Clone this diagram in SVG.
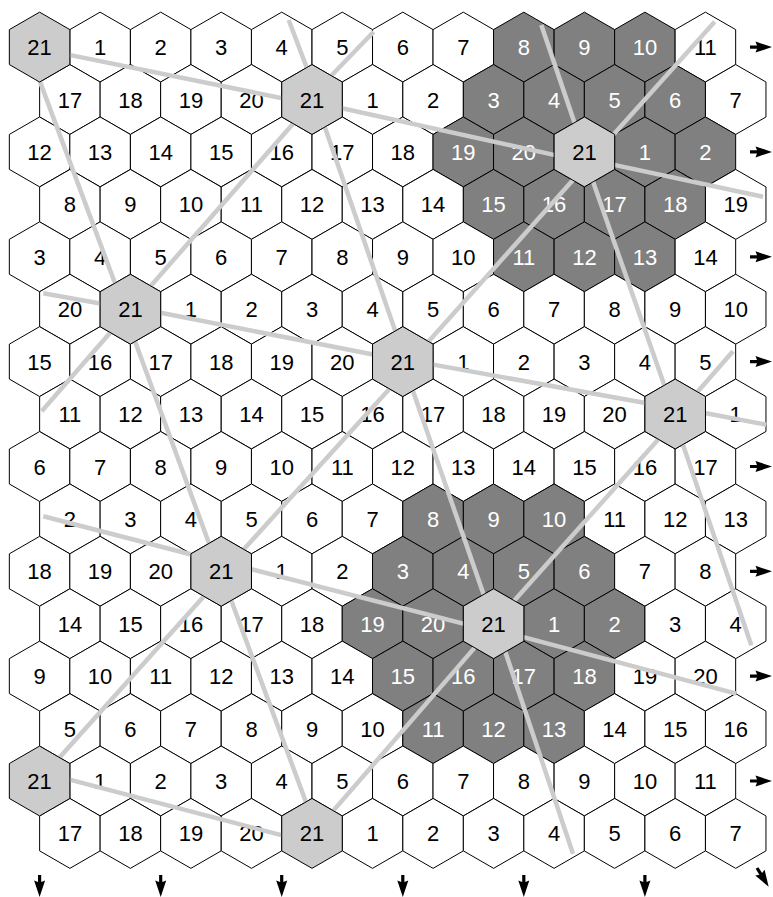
<svg xmlns="http://www.w3.org/2000/svg" xmlns:xlink="http://www.w3.org/1999/xlink" width="773" height="897" viewBox="0 0 773 897">
<style>
use.hx{stroke:#000;stroke-width:1}
.w use{fill:#fff}
.d use{fill:#808080}
.l use{fill:#ccc}
text{font-family:"Liberation Sans",Arial,sans-serif;font-size:22px;text-anchor:middle;fill:#000}
.d text{fill:#fff}
#connectors line{stroke:#ccc;stroke-width:4.5;stroke-linecap:butt}
.arr{fill:#000}
</style>
<defs>
<polygon id="h" points="0,-34.95 30.265,-17.475 30.265,17.475 0,34.95 -30.265,17.475 -30.265,-17.475"/>
<path id="ar" d="M0,-1.6H7L5.5,-5.5L22,0L5.5,5.5L7,1.6H0Z"/>
</defs>
<rect width="773" height="897" fill="#fff"/>
<g id="cells">
<g id="r0c1" class="w" transform="translate(100.1,47.1)"><use class="hx" href="#h"/><text y="8">1</text></g>
<g id="r0c2" class="w" transform="translate(160.7,47.1)"><use class="hx" href="#h"/><text y="8">2</text></g>
<g id="r0c3" class="w" transform="translate(221.2,47.1)"><use class="hx" href="#h"/><text y="8">3</text></g>
<g id="r0c4" class="w" transform="translate(281.7,47.1)"><use class="hx" href="#h"/><text y="8">4</text></g>
<g id="r0c5" class="w" transform="translate(342.3,47.1)"><use class="hx" href="#h"/><text y="8">5</text></g>
<g id="r0c6" class="w" transform="translate(402.8,47.1)"><use class="hx" href="#h"/><text y="8">6</text></g>
<g id="r0c7" class="w" transform="translate(463.3,47.1)"><use class="hx" href="#h"/><text y="8">7</text></g>
<g id="r0c8" class="d" transform="translate(523.8,47.1)"><use class="hx" href="#h"/><text y="8">8</text></g>
<g id="r0c9" class="d" transform="translate(584.4,47.1)"><use class="hx" href="#h"/><text y="8">9</text></g>
<g id="r0c10" class="d" transform="translate(644.9,47.1)"><use class="hx" href="#h"/><text y="8">10</text></g>
<g id="r0c11" class="w" transform="translate(705.4,47.1)"><use class="hx" href="#h"/><text y="8">11</text></g>

<g id="r1c0" class="w" transform="translate(69.9,99.5)"><use class="hx" href="#h"/><text y="8">17</text></g>
<g id="r1c1" class="w" transform="translate(130.4,99.5)"><use class="hx" href="#h"/><text y="8">18</text></g>
<g id="r1c2" class="w" transform="translate(190.9,99.5)"><use class="hx" href="#h"/><text y="8">19</text></g>
<g id="r1c3" class="w" transform="translate(251.5,99.5)"><use class="hx" href="#h"/><text y="8">20</text></g>
<g id="r1c5" class="w" transform="translate(372.5,99.5)"><use class="hx" href="#h"/><text y="8">1</text></g>
<g id="r1c6" class="w" transform="translate(433.1,99.5)"><use class="hx" href="#h"/><text y="8">2</text></g>
<g id="r1c7" class="d" transform="translate(493.6,99.5)"><use class="hx" href="#h"/><text y="8">3</text></g>
<g id="r1c8" class="d" transform="translate(554.1,99.5)"><use class="hx" href="#h"/><text y="8">4</text></g>
<g id="r1c9" class="d" transform="translate(614.6,99.5)"><use class="hx" href="#h"/><text y="8">5</text></g>
<g id="r1c10" class="d" transform="translate(675.2,99.5)"><use class="hx" href="#h"/><text y="8">6</text></g>
<g id="r1c11" class="w" transform="translate(735.7,99.5)"><use class="hx" href="#h"/><text y="8">7</text></g>

<g id="r2c0" class="w" transform="translate(39.6,151.9)"><use class="hx" href="#h"/><text y="8">12</text></g>
<g id="r2c1" class="w" transform="translate(100.1,151.9)"><use class="hx" href="#h"/><text y="8">13</text></g>
<g id="r2c2" class="w" transform="translate(160.7,151.9)"><use class="hx" href="#h"/><text y="8">14</text></g>
<g id="r2c3" class="w" transform="translate(221.2,151.9)"><use class="hx" href="#h"/><text y="8">15</text></g>
<g id="r2c4" class="w" transform="translate(281.7,151.9)"><use class="hx" href="#h"/><text y="8">16</text></g>
<g id="r2c5" class="w" transform="translate(342.3,151.9)"><use class="hx" href="#h"/><text y="8">17</text></g>
<g id="r2c6" class="w" transform="translate(402.8,151.9)"><use class="hx" href="#h"/><text y="8">18</text></g>
<g id="r2c7" class="d" transform="translate(463.3,151.9)"><use class="hx" href="#h"/><text y="8">19</text></g>
<g id="r2c8" class="d" transform="translate(523.8,151.9)"><use class="hx" href="#h"/><text y="8">20</text></g>
<g id="r2c10" class="d" transform="translate(644.9,151.9)"><use class="hx" href="#h"/><text y="8">1</text></g>
<g id="r2c11" class="d" transform="translate(705.4,151.9)"><use class="hx" href="#h"/><text y="8">2</text></g>

<g id="r3c0" class="w" transform="translate(69.9,204.4)"><use class="hx" href="#h"/><text y="8">8</text></g>
<g id="r3c1" class="w" transform="translate(130.4,204.4)"><use class="hx" href="#h"/><text y="8">9</text></g>
<g id="r3c2" class="w" transform="translate(190.9,204.4)"><use class="hx" href="#h"/><text y="8">10</text></g>
<g id="r3c3" class="w" transform="translate(251.5,204.4)"><use class="hx" href="#h"/><text y="8">11</text></g>
<g id="r3c4" class="w" transform="translate(312.0,204.4)"><use class="hx" href="#h"/><text y="8">12</text></g>
<g id="r3c5" class="w" transform="translate(372.5,204.4)"><use class="hx" href="#h"/><text y="8">13</text></g>
<g id="r3c6" class="w" transform="translate(433.1,204.4)"><use class="hx" href="#h"/><text y="8">14</text></g>
<g id="r3c7" class="d" transform="translate(493.6,204.4)"><use class="hx" href="#h"/><text y="8">15</text></g>
<g id="r3c8" class="d" transform="translate(554.1,204.4)"><use class="hx" href="#h"/><text y="8">16</text></g>
<g id="r3c9" class="d" transform="translate(614.6,204.4)"><use class="hx" href="#h"/><text y="8">17</text></g>
<g id="r3c10" class="d" transform="translate(675.2,204.4)"><use class="hx" href="#h"/><text y="8">18</text></g>
<g id="r3c11" class="w" transform="translate(735.7,204.4)"><use class="hx" href="#h"/><text y="8">19</text></g>

<g id="r4c0" class="w" transform="translate(39.6,256.8)"><use class="hx" href="#h"/><text y="8">3</text></g>
<g id="r4c1" class="w" transform="translate(100.1,256.8)"><use class="hx" href="#h"/><text y="8">4</text></g>
<g id="r4c2" class="w" transform="translate(160.7,256.8)"><use class="hx" href="#h"/><text y="8">5</text></g>
<g id="r4c3" class="w" transform="translate(221.2,256.8)"><use class="hx" href="#h"/><text y="8">6</text></g>
<g id="r4c4" class="w" transform="translate(281.7,256.8)"><use class="hx" href="#h"/><text y="8">7</text></g>
<g id="r4c5" class="w" transform="translate(342.3,256.8)"><use class="hx" href="#h"/><text y="8">8</text></g>
<g id="r4c6" class="w" transform="translate(402.8,256.8)"><use class="hx" href="#h"/><text y="8">9</text></g>
<g id="r4c7" class="w" transform="translate(463.3,256.8)"><use class="hx" href="#h"/><text y="8">10</text></g>
<g id="r4c8" class="d" transform="translate(523.8,256.8)"><use class="hx" href="#h"/><text y="8">11</text></g>
<g id="r4c9" class="d" transform="translate(584.4,256.8)"><use class="hx" href="#h"/><text y="8">12</text></g>
<g id="r4c10" class="d" transform="translate(644.9,256.8)"><use class="hx" href="#h"/><text y="8">13</text></g>
<g id="r4c11" class="w" transform="translate(705.4,256.8)"><use class="hx" href="#h"/><text y="8">14</text></g>

<g id="r5c0" class="w" transform="translate(69.9,309.2)"><use class="hx" href="#h"/><text y="8">20</text></g>
<g id="r5c2" class="w" transform="translate(190.9,309.2)"><use class="hx" href="#h"/><text y="8">1</text></g>
<g id="r5c3" class="w" transform="translate(251.5,309.2)"><use class="hx" href="#h"/><text y="8">2</text></g>
<g id="r5c4" class="w" transform="translate(312.0,309.2)"><use class="hx" href="#h"/><text y="8">3</text></g>
<g id="r5c5" class="w" transform="translate(372.5,309.2)"><use class="hx" href="#h"/><text y="8">4</text></g>
<g id="r5c6" class="w" transform="translate(433.1,309.2)"><use class="hx" href="#h"/><text y="8">5</text></g>
<g id="r5c7" class="w" transform="translate(493.6,309.2)"><use class="hx" href="#h"/><text y="8">6</text></g>
<g id="r5c8" class="w" transform="translate(554.1,309.2)"><use class="hx" href="#h"/><text y="8">7</text></g>
<g id="r5c9" class="w" transform="translate(614.6,309.2)"><use class="hx" href="#h"/><text y="8">8</text></g>
<g id="r5c10" class="w" transform="translate(675.2,309.2)"><use class="hx" href="#h"/><text y="8">9</text></g>
<g id="r5c11" class="w" transform="translate(735.7,309.2)"><use class="hx" href="#h"/><text y="8">10</text></g>

<g id="r6c0" class="w" transform="translate(39.6,361.6)"><use class="hx" href="#h"/><text y="8">15</text></g>
<g id="r6c1" class="w" transform="translate(100.1,361.6)"><use class="hx" href="#h"/><text y="8">16</text></g>
<g id="r6c2" class="w" transform="translate(160.7,361.6)"><use class="hx" href="#h"/><text y="8">17</text></g>
<g id="r6c3" class="w" transform="translate(221.2,361.6)"><use class="hx" href="#h"/><text y="8">18</text></g>
<g id="r6c4" class="w" transform="translate(281.7,361.6)"><use class="hx" href="#h"/><text y="8">19</text></g>
<g id="r6c5" class="w" transform="translate(342.3,361.6)"><use class="hx" href="#h"/><text y="8">20</text></g>
<g id="r6c7" class="w" transform="translate(463.3,361.6)"><use class="hx" href="#h"/><text y="8">1</text></g>
<g id="r6c8" class="w" transform="translate(523.8,361.6)"><use class="hx" href="#h"/><text y="8">2</text></g>
<g id="r6c9" class="w" transform="translate(584.4,361.6)"><use class="hx" href="#h"/><text y="8">3</text></g>
<g id="r6c10" class="w" transform="translate(644.9,361.6)"><use class="hx" href="#h"/><text y="8">4</text></g>
<g id="r6c11" class="w" transform="translate(705.4,361.6)"><use class="hx" href="#h"/><text y="8">5</text></g>

<g id="r7c0" class="w" transform="translate(69.9,414.0)"><use class="hx" href="#h"/><text y="8">11</text></g>
<g id="r7c1" class="w" transform="translate(130.4,414.0)"><use class="hx" href="#h"/><text y="8">12</text></g>
<g id="r7c2" class="w" transform="translate(190.9,414.0)"><use class="hx" href="#h"/><text y="8">13</text></g>
<g id="r7c3" class="w" transform="translate(251.5,414.0)"><use class="hx" href="#h"/><text y="8">14</text></g>
<g id="r7c4" class="w" transform="translate(312.0,414.0)"><use class="hx" href="#h"/><text y="8">15</text></g>
<g id="r7c5" class="w" transform="translate(372.5,414.0)"><use class="hx" href="#h"/><text y="8">16</text></g>
<g id="r7c6" class="w" transform="translate(433.1,414.0)"><use class="hx" href="#h"/><text y="8">17</text></g>
<g id="r7c7" class="w" transform="translate(493.6,414.0)"><use class="hx" href="#h"/><text y="8">18</text></g>
<g id="r7c8" class="w" transform="translate(554.1,414.0)"><use class="hx" href="#h"/><text y="8">19</text></g>
<g id="r7c9" class="w" transform="translate(614.6,414.0)"><use class="hx" href="#h"/><text y="8">20</text></g>
<g id="r7c11" class="w" transform="translate(735.7,414.0)"><use class="hx" href="#h"/><text y="8">1</text></g>

<g id="r8c0" class="w" transform="translate(39.6,466.5)"><use class="hx" href="#h"/><text y="8">6</text></g>
<g id="r8c1" class="w" transform="translate(100.1,466.5)"><use class="hx" href="#h"/><text y="8">7</text></g>
<g id="r8c2" class="w" transform="translate(160.7,466.5)"><use class="hx" href="#h"/><text y="8">8</text></g>
<g id="r8c3" class="w" transform="translate(221.2,466.5)"><use class="hx" href="#h"/><text y="8">9</text></g>
<g id="r8c4" class="w" transform="translate(281.7,466.5)"><use class="hx" href="#h"/><text y="8">10</text></g>
<g id="r8c5" class="w" transform="translate(342.3,466.5)"><use class="hx" href="#h"/><text y="8">11</text></g>
<g id="r8c6" class="w" transform="translate(402.8,466.5)"><use class="hx" href="#h"/><text y="8">12</text></g>
<g id="r8c7" class="w" transform="translate(463.3,466.5)"><use class="hx" href="#h"/><text y="8">13</text></g>
<g id="r8c8" class="w" transform="translate(523.8,466.5)"><use class="hx" href="#h"/><text y="8">14</text></g>
<g id="r8c9" class="w" transform="translate(584.4,466.5)"><use class="hx" href="#h"/><text y="8">15</text></g>
<g id="r8c10" class="w" transform="translate(644.9,466.5)"><use class="hx" href="#h"/><text y="8">16</text></g>
<g id="r8c11" class="w" transform="translate(705.4,466.5)"><use class="hx" href="#h"/><text y="8">17</text></g>

<g id="r9c0" class="w" transform="translate(69.9,518.9)"><use class="hx" href="#h"/><text y="8">2</text></g>
<g id="r9c1" class="w" transform="translate(130.4,518.9)"><use class="hx" href="#h"/><text y="8">3</text></g>
<g id="r9c2" class="w" transform="translate(190.9,518.9)"><use class="hx" href="#h"/><text y="8">4</text></g>
<g id="r9c3" class="w" transform="translate(251.5,518.9)"><use class="hx" href="#h"/><text y="8">5</text></g>
<g id="r9c4" class="w" transform="translate(312.0,518.9)"><use class="hx" href="#h"/><text y="8">6</text></g>
<g id="r9c5" class="w" transform="translate(372.5,518.9)"><use class="hx" href="#h"/><text y="8">7</text></g>
<g id="r9c6" class="d" transform="translate(433.1,518.9)"><use class="hx" href="#h"/><text y="8">8</text></g>
<g id="r9c7" class="d" transform="translate(493.6,518.9)"><use class="hx" href="#h"/><text y="8">9</text></g>
<g id="r9c8" class="d" transform="translate(554.1,518.9)"><use class="hx" href="#h"/><text y="8">10</text></g>
<g id="r9c9" class="w" transform="translate(614.6,518.9)"><use class="hx" href="#h"/><text y="8">11</text></g>
<g id="r9c10" class="w" transform="translate(675.2,518.9)"><use class="hx" href="#h"/><text y="8">12</text></g>
<g id="r9c11" class="w" transform="translate(735.7,518.9)"><use class="hx" href="#h"/><text y="8">13</text></g>

<g id="r10c0" class="w" transform="translate(39.6,571.3)"><use class="hx" href="#h"/><text y="8">18</text></g>
<g id="r10c1" class="w" transform="translate(100.1,571.3)"><use class="hx" href="#h"/><text y="8">19</text></g>
<g id="r10c2" class="w" transform="translate(160.7,571.3)"><use class="hx" href="#h"/><text y="8">20</text></g>
<g id="r10c4" class="w" transform="translate(281.7,571.3)"><use class="hx" href="#h"/><text y="8">1</text></g>
<g id="r10c5" class="w" transform="translate(342.3,571.3)"><use class="hx" href="#h"/><text y="8">2</text></g>
<g id="r10c6" class="d" transform="translate(402.8,571.3)"><use class="hx" href="#h"/><text y="8">3</text></g>
<g id="r10c7" class="d" transform="translate(463.3,571.3)"><use class="hx" href="#h"/><text y="8">4</text></g>
<g id="r10c8" class="d" transform="translate(523.8,571.3)"><use class="hx" href="#h"/><text y="8">5</text></g>
<g id="r10c9" class="d" transform="translate(584.4,571.3)"><use class="hx" href="#h"/><text y="8">6</text></g>
<g id="r10c10" class="w" transform="translate(644.9,571.3)"><use class="hx" href="#h"/><text y="8">7</text></g>
<g id="r10c11" class="w" transform="translate(705.4,571.3)"><use class="hx" href="#h"/><text y="8">8</text></g>

<g id="r11c0" class="w" transform="translate(69.9,623.7)"><use class="hx" href="#h"/><text y="8">14</text></g>
<g id="r11c1" class="w" transform="translate(130.4,623.7)"><use class="hx" href="#h"/><text y="8">15</text></g>
<g id="r11c2" class="w" transform="translate(190.9,623.7)"><use class="hx" href="#h"/><text y="8">16</text></g>
<g id="r11c3" class="w" transform="translate(251.5,623.7)"><use class="hx" href="#h"/><text y="8">17</text></g>
<g id="r11c4" class="w" transform="translate(312.0,623.7)"><use class="hx" href="#h"/><text y="8">18</text></g>
<g id="r11c5" class="d" transform="translate(372.5,623.7)"><use class="hx" href="#h"/><text y="8">19</text></g>
<g id="r11c6" class="d" transform="translate(433.1,623.7)"><use class="hx" href="#h"/><text y="8">20</text></g>
<g id="r11c8" class="d" transform="translate(554.1,623.7)"><use class="hx" href="#h"/><text y="8">1</text></g>
<g id="r11c9" class="d" transform="translate(614.6,623.7)"><use class="hx" href="#h"/><text y="8">2</text></g>
<g id="r11c10" class="w" transform="translate(675.2,623.7)"><use class="hx" href="#h"/><text y="8">3</text></g>
<g id="r11c11" class="w" transform="translate(735.7,623.7)"><use class="hx" href="#h"/><text y="8">4</text></g>

<g id="r12c0" class="w" transform="translate(39.6,676.1)"><use class="hx" href="#h"/><text y="8">9</text></g>
<g id="r12c1" class="w" transform="translate(100.1,676.1)"><use class="hx" href="#h"/><text y="8">10</text></g>
<g id="r12c2" class="w" transform="translate(160.7,676.1)"><use class="hx" href="#h"/><text y="8">11</text></g>
<g id="r12c3" class="w" transform="translate(221.2,676.1)"><use class="hx" href="#h"/><text y="8">12</text></g>
<g id="r12c4" class="w" transform="translate(281.7,676.1)"><use class="hx" href="#h"/><text y="8">13</text></g>
<g id="r12c5" class="w" transform="translate(342.3,676.1)"><use class="hx" href="#h"/><text y="8">14</text></g>
<g id="r12c6" class="d" transform="translate(402.8,676.1)"><use class="hx" href="#h"/><text y="8">15</text></g>
<g id="r12c7" class="d" transform="translate(463.3,676.1)"><use class="hx" href="#h"/><text y="8">16</text></g>
<g id="r12c8" class="d" transform="translate(523.8,676.1)"><use class="hx" href="#h"/><text y="8">17</text></g>
<g id="r12c9" class="d" transform="translate(584.4,676.1)"><use class="hx" href="#h"/><text y="8">18</text></g>
<g id="r12c10" class="w" transform="translate(644.9,676.1)"><use class="hx" href="#h"/><text y="8">19</text></g>
<g id="r12c11" class="w" transform="translate(705.4,676.1)"><use class="hx" href="#h"/><text y="8">20</text></g>

<g id="r13c0" class="w" transform="translate(69.9,728.6)"><use class="hx" href="#h"/><text y="8">5</text></g>
<g id="r13c1" class="w" transform="translate(130.4,728.6)"><use class="hx" href="#h"/><text y="8">6</text></g>
<g id="r13c2" class="w" transform="translate(190.9,728.6)"><use class="hx" href="#h"/><text y="8">7</text></g>
<g id="r13c3" class="w" transform="translate(251.5,728.6)"><use class="hx" href="#h"/><text y="8">8</text></g>
<g id="r13c4" class="w" transform="translate(312.0,728.6)"><use class="hx" href="#h"/><text y="8">9</text></g>
<g id="r13c5" class="w" transform="translate(372.5,728.6)"><use class="hx" href="#h"/><text y="8">10</text></g>
<g id="r13c6" class="d" transform="translate(433.1,728.6)"><use class="hx" href="#h"/><text y="8">11</text></g>
<g id="r13c7" class="d" transform="translate(493.6,728.6)"><use class="hx" href="#h"/><text y="8">12</text></g>
<g id="r13c8" class="d" transform="translate(554.1,728.6)"><use class="hx" href="#h"/><text y="8">13</text></g>
<g id="r13c9" class="w" transform="translate(614.6,728.6)"><use class="hx" href="#h"/><text y="8">14</text></g>
<g id="r13c10" class="w" transform="translate(675.2,728.6)"><use class="hx" href="#h"/><text y="8">15</text></g>
<g id="r13c11" class="w" transform="translate(735.7,728.6)"><use class="hx" href="#h"/><text y="8">16</text></g>

<g id="r14c1" class="w" transform="translate(100.1,781.0)"><use class="hx" href="#h"/><text y="8">1</text></g>
<g id="r14c2" class="w" transform="translate(160.7,781.0)"><use class="hx" href="#h"/><text y="8">2</text></g>
<g id="r14c3" class="w" transform="translate(221.2,781.0)"><use class="hx" href="#h"/><text y="8">3</text></g>
<g id="r14c4" class="w" transform="translate(281.7,781.0)"><use class="hx" href="#h"/><text y="8">4</text></g>
<g id="r14c5" class="w" transform="translate(342.3,781.0)"><use class="hx" href="#h"/><text y="8">5</text></g>
<g id="r14c6" class="w" transform="translate(402.8,781.0)"><use class="hx" href="#h"/><text y="8">6</text></g>
<g id="r14c7" class="w" transform="translate(463.3,781.0)"><use class="hx" href="#h"/><text y="8">7</text></g>
<g id="r14c8" class="w" transform="translate(523.8,781.0)"><use class="hx" href="#h"/><text y="8">8</text></g>
<g id="r14c9" class="w" transform="translate(584.4,781.0)"><use class="hx" href="#h"/><text y="8">9</text></g>
<g id="r14c10" class="w" transform="translate(644.9,781.0)"><use class="hx" href="#h"/><text y="8">10</text></g>
<g id="r14c11" class="w" transform="translate(705.4,781.0)"><use class="hx" href="#h"/><text y="8">11</text></g>

<g id="r15c0" class="w" transform="translate(69.9,833.4)"><use class="hx" href="#h"/><text y="8">17</text></g>
<g id="r15c1" class="w" transform="translate(130.4,833.4)"><use class="hx" href="#h"/><text y="8">18</text></g>
<g id="r15c2" class="w" transform="translate(190.9,833.4)"><use class="hx" href="#h"/><text y="8">19</text></g>
<g id="r15c3" class="w" transform="translate(251.5,833.4)"><use class="hx" href="#h"/><text y="8">20</text></g>
<g id="r15c5" class="w" transform="translate(372.5,833.4)"><use class="hx" href="#h"/><text y="8">1</text></g>
<g id="r15c6" class="w" transform="translate(433.1,833.4)"><use class="hx" href="#h"/><text y="8">2</text></g>
<g id="r15c7" class="w" transform="translate(493.6,833.4)"><use class="hx" href="#h"/><text y="8">3</text></g>
<g id="r15c8" class="w" transform="translate(554.1,833.4)"><use class="hx" href="#h"/><text y="8">4</text></g>
<g id="r15c9" class="w" transform="translate(614.6,833.4)"><use class="hx" href="#h"/><text y="8">5</text></g>
<g id="r15c10" class="w" transform="translate(675.2,833.4)"><use class="hx" href="#h"/><text y="8">6</text></g>
<g id="r15c11" class="w" transform="translate(735.7,833.4)"><use class="hx" href="#h"/><text y="8">7</text></g>
</g>

<g id="connectors">
<line x1="62" y1="53.4" x2="292" y2="100.2"/>
<line x1="37" y1="73.6" x2="119" y2="294"/>
<line x1="288.7" y1="20" x2="310" y2="76.2"/>
<line x1="373.7" y1="31.7" x2="327.8" y2="79.3"/>
<line x1="334" y1="106.5" x2="563" y2="156.9"/>
<line x1="297" y1="119.3" x2="145" y2="292.4"/>
<line x1="322.5" y1="120.2" x2="398" y2="339.1"/>
<line x1="541.3" y1="25" x2="577.5" y2="131.5"/>
<line x1="714.7" y1="21.7" x2="607" y2="141.7"/>
<line x1="606" y1="163.1" x2="763" y2="196.7"/>
<line x1="577" y1="175.5" x2="424.7" y2="345.8"/>
<line x1="590" y1="173.1" x2="667.5" y2="394.3"/>
<line x1="43.3" y1="293.3" x2="110" y2="305.2"/>
<line x1="153" y1="311.3" x2="382" y2="356.3"/>
<line x1="41.7" y1="411.3" x2="116" y2="326.1"/>
<line x1="132" y1="333.1" x2="213" y2="554.2"/>
<line x1="425" y1="363.1" x2="655" y2="404.7"/>
<line x1="393" y1="384.9" x2="240" y2="553.5"/>
<line x1="411" y1="385.2" x2="486.5" y2="602.8"/>
<line x1="733" y1="351.3" x2="693" y2="397"/>
<line x1="697" y1="411.5" x2="766.3" y2="424.7"/>
<line x1="680.5" y1="437.4" x2="751.3" y2="645.3"/>
<line x1="662" y1="435.2" x2="513" y2="601.9"/>
<line x1="43.3" y1="516.3" x2="200" y2="556.8"/>
<line x1="245" y1="567.6" x2="472" y2="625.9"/>
<line x1="212" y1="587.3" x2="55" y2="762.6"/>
<line x1="226" y1="586.2" x2="308.3" y2="808.4"/>
<line x1="515" y1="634.9" x2="736.3" y2="693.7"/>
<line x1="500" y1="636" x2="573" y2="853.7"/>
<line x1="328" y1="816.9" x2="481" y2="640.4"/>
<line x1="62" y1="777.6" x2="290" y2="837.4"/>
</g>

<g id="r0c0" class="l" transform="translate(39.6,47.1)"><use class="hx" href="#h"/><text y="8">21</text></g>
<g id="r1c4" class="l" transform="translate(312.0,99.5)"><use class="hx" href="#h"/><text y="8">21</text></g>
<g id="r2c9" class="l" transform="translate(584.4,151.9)"><use class="hx" href="#h"/><text y="8">21</text></g>
<g id="r5c1" class="l" transform="translate(130.4,309.2)"><use class="hx" href="#h"/><text y="8">21</text></g>
<g id="r6c6" class="l" transform="translate(402.8,361.6)"><use class="hx" href="#h"/><text y="8">21</text></g>
<g id="r7c10" class="l" transform="translate(675.2,414.0)"><use class="hx" href="#h"/><text y="8">21</text></g>
<g id="r10c3" class="l" transform="translate(221.2,571.3)"><use class="hx" href="#h"/><text y="8">21</text></g>
<g id="r11c7" class="l" transform="translate(493.6,623.7)"><use class="hx" href="#h"/><text y="8">21</text></g>
<g id="r14c0" class="l" transform="translate(39.6,781.0)"><use class="hx" href="#h"/><text y="8">21</text></g>
<g id="r15c4" class="l" transform="translate(312.0,833.4)"><use class="hx" href="#h"/><text y="8">21</text></g>

<g id="arrows" class="arr">
<use href="#ar" transform="translate(750,47.1)"/>
<use href="#ar" transform="translate(750,151.9)"/>
<use href="#ar" transform="translate(750,256.8)"/>
<use href="#ar" transform="translate(750,361.6)"/>
<use href="#ar" transform="translate(750,466.5)"/>
<use href="#ar" transform="translate(750,571.3)"/>
<use href="#ar" transform="translate(750,676.1)"/>
<use href="#ar" transform="translate(750,781.0)"/>
<use href="#ar" transform="translate(39.6,875) rotate(90)"/>
<use href="#ar" transform="translate(160.7,875) rotate(90)"/>
<use href="#ar" transform="translate(281.7,875) rotate(90)"/>
<use href="#ar" transform="translate(402.8,875) rotate(90)"/>
<use href="#ar" transform="translate(523.8,875) rotate(90)"/>
<use href="#ar" transform="translate(644.9,875) rotate(90)"/>
<use href="#ar" transform="translate(757,868) rotate(58)"/>
</g>
</svg>
